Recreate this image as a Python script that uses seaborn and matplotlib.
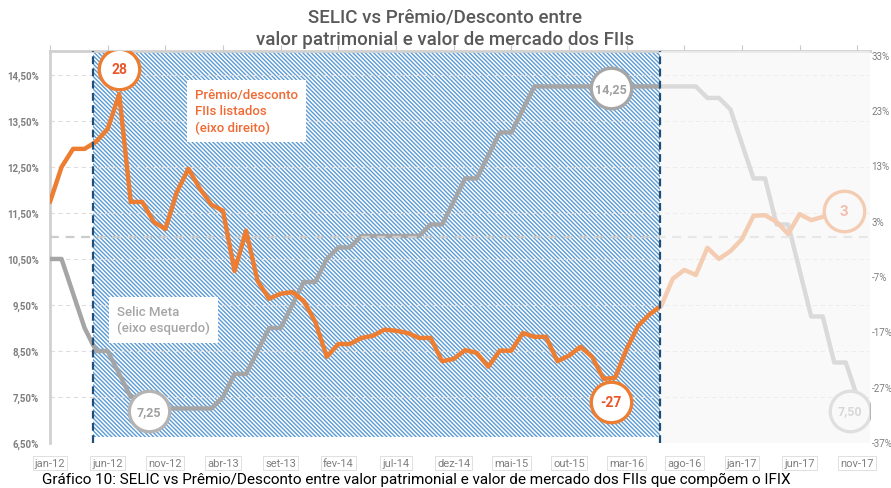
import numpy as np
import pandas as pd
import matplotlib
matplotlib.use("Agg")
import matplotlib.pyplot as plt
import matplotlib.transforms as mtransforms
import seaborn as sns

# Selic meta (% a.a., eixo esquerdo), mensal jan-12 .. nov-17
selic = [10.5, 10.5, 9.75, 9.0, 8.5, 8.5, 8.0, 7.5, 7.5, 7.25, 7.25, 7.25,
         7.25, 7.25, 7.25, 7.5, 8.0, 8.0, 8.5, 9.0, 9.0, 9.5, 10.0, 10.0,
         10.5, 10.75, 10.75, 11.0, 11.0, 11.0, 11.0, 11.0, 11.0, 11.25, 11.25, 11.75,
         12.25, 12.25, 12.75, 13.25, 13.25, 13.75, 14.25, 14.25, 14.25, 14.25, 14.25, 14.25,
         14.25, 14.25, 14.25, 14.25, 14.25, 14.25, 14.25, 14.25, 14.25, 14.0, 14.0, 13.75,
         13.0, 12.25, 12.25, 11.25, 11.25, 10.25, 9.25, 9.25, 8.25, 8.25, 7.5]

# Premio/desconto FIIs listados (%, eixo direito), mensal jan-12 .. ago-17
premio = [6.4, 12.7, 16.0, 16.0, 17.3, 19.6, 25.9, 6.4, 6.4, 2.8, 1.5, 8.2,
          12.4, 8.8, 5.9, 4.8, -6.1, 1.2, -7.9, -11.1, -10.2, -9.9, -11.5, -15.3,
          -21.6, -19.3, -19.3, -18.2, -17.8, -16.7, -16.9, -17.3, -18.2, -18.2, -22.4, -22.0,
          -20.4, -20.9, -23.4, -20.5, -20.5, -17.3, -18.0, -18.0, -22.4, -21.4, -19.8, -21.6,
          -25.6, -25.4, -20.2, -16.0, -13.9, -12.4, -7.5, -5.9, -6.8, -1.9, -3.9, -2.5,
          -0.3, 3.9, 4.0, 2.8, 0.6, 4.2, 3.1, 3.7]

xtick_labels = ["jan-12", "jun-12", "nov-12", "abr-13", "set-13", "fev-14", "jul-14",
                "dez-14", "mai-15", "out-15", "mar-16", "ago-16", "jan-17", "jun-17", "nov-17"]
left_ticks = [6.5, 7.5, 8.5, 9.5, 10.5, 11.5, 12.5, 13.5, 14.5]
right_ticks = [-37, -27, -17, -7, 3, 13, 23, 33]

sns.set_style("white")
plt.rcParams["font.family"] = ["Roboto", "DejaVu Sans"]
plt.rcParams["hatch.linewidth"] = 1.0

fig = plt.figure(figsize=(8.91, 4.89), dpi=100)
ax = fig.add_axes([50 / 891, 1 - 444 / 489, 820 / 891, 392 / 489])
ax2 = ax.twinx()

df_selic = pd.DataFrame({"mes": np.arange(len(selic)), "selic": selic})
df_premio = pd.DataFrame({"mes": np.arange(len(premio)), "premio": premio})

# periodo destacado (hachurado azul) e periodo esmaecido
ax.axvspan(3.73, 52.9, ymin=0.015, facecolor="white", edgecolor="#5b9bd5",
           hatch="\\\\\\\\\\\\\\\\", lw=0, zorder=0)
ax.grid(axis="y", color="#dddddd", ls=(0, (4, 3)), lw=0.8)
ax.grid(axis="x", visible=False)

sns.lineplot(data=df_selic, x="mes", y="selic", ax=ax, color="#a5a5a5", linewidth=3.2, zorder=3)
sns.lineplot(data=df_premio, x="mes", y="premio", ax=ax2, color="#ed7d31", linewidth=3.2, zorder=5)
ax2.axhline(0, color="#cccccc", lw=1.6, ls=(0, (4, 3)), zorder=1)

for xv in (3.73, 52.9):
    ax2.axvline(xv, color="#1f4e79", lw=1.6, ls=(0, (3.5, 2)), zorder=25)
ax2.axvspan(52.9, 71.1, facecolor="#f7f7f7", alpha=0.65, lw=0, zorder=20)


def bubble(axis, x, y, text, edge, tc, dx, dy, size, z):
    tr = mtransforms.offset_copy(axis.transData, fig=fig, x=dx, y=dy, units="dots")
    axis.scatter([x], [y], s=850, facecolor="white", edgecolor=edge, linewidth=2.4,
                 transform=tr, zorder=z)
    axis.text(x, y, text, transform=tr, ha="center", va="center", color=tc,
              fontsize=size, fontweight="bold", zorder=z + 1)


bubble(ax2, 6, premio[6], "28", "#ed7d31", "#e8562a", 0, 25, 10, 10)
bubble(ax2, 48, premio[48], "-27", "#ed7d31", "#e8562a", 7, -23, 10, 10)
bubble(ax2, 67, premio[67], "3", "#ed7d31", "#e8562a", 21, 6, 11, 10)
bubble(ax, 9, selic[9], "7,25", "#b4b4b4", "#a0a0a0", -5, -3, 9, 6)
bubble(ax, 48, selic[48], "14,25", "#a6a6a6", "#a0a0a0", 7, -2, 9, 6)
bubble(ax, 70, selic[70], "7,50", "#b4b4b4", "#a0a0a0", -7, -14, 9, 6)

ax2.text(0.177, 0.905, "Prêmio/desconto\nFIIs listados\n(eixo direito)", transform=ax2.transAxes,
         ha="left", va="top", color="#ef6a34", fontsize=9.5, fontweight="medium",
         linespacing=1.3, zorder=30, bbox=dict(facecolor="white", edgecolor="none", pad=6))
ax2.text(0.082, 0.352, "Selic Meta\n(eixo esquerdo)", transform=ax2.transAxes,
         ha="left", va="top", color="#a6a6a6", fontsize=9.5, fontweight="medium",
         linespacing=1.3, zorder=30, bbox=dict(facecolor="white", edgecolor="none", pad=6))

# eixos
ax.set_xlim(0, 71.1)
ax.set_ylim(6.5, 15.02)
ax2.set_ylim(-37.2, 33.7)
ax.set_xlabel("")
ax.set_ylabel("")
ax2.set_ylabel("")

ax.set_xticks(np.arange(0, 71, 5))
ax.set_xticklabels(xtick_labels)
ax.tick_params(axis="x", top=True, bottom=False, direction="out", length=4, color="#c8c8c8",
               labelsize=8, labelcolor="#7f7f7f", pad=7)
for lbl in ax.get_xticklabels():
    lbl.set_bbox(dict(facecolor="none", edgecolor="#dadada", lw=0.6, pad=1.5))

ax.set_yticks(left_ticks)
ax.set_yticklabels([f"{v:.2f}%".replace(".", ",") for v in left_ticks])
ax.tick_params(axis="y", length=0, labelsize=7, labelcolor="#7f7f7f", pad=8)
for lbl in ax.get_yticklabels():
    lbl.set_fontweight("bold")

ax2.set_yticks(right_ticks)
ax2.set_yticklabels([f"{v}%" for v in right_ticks])
ax2.tick_params(axis="y", length=0, labelsize=7, labelcolor="#7f7f7f", pad=1)

for s in ax2.spines.values():
    s.set_visible(False)
ax.spines["bottom"].set_visible(False)
ax.spines["right"].set_visible(False)
for side in ("top", "left"):
    ax.spines[side].set_color("#d0d0d0")
    ax.spines[side].set_linewidth(2)

fig.text(0.4994, 1 - 18 / 489, "SELIC vs Prêmio/Desconto entre",
         ha="center", va="center", fontsize=13.5, fontweight="medium", color="#595959")
fig.text(0.4994, 1 - 40 / 489, "valor patrimonial e valor de mercado dos FIIs",
         ha="center", va="center", fontsize=13.5, fontweight="medium", color="#595959")
fig.text(42 / 891, 1 - 480 / 489,
         "Gráfico 10: SELIC vs Prêmio/Desconto entre valor patrimonial e valor de mercado dos FIIs que compõem o IFIX",
         ha="left", va="center", fontsize=11, color="black")

fig.savefig("out.png", dpi=100)
